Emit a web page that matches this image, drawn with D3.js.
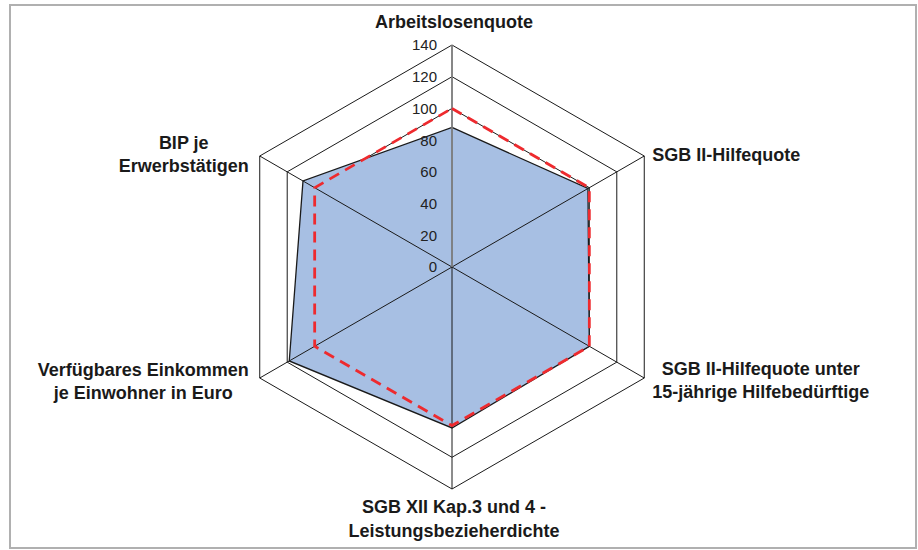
<!DOCTYPE html>
<html>
<head>
<meta charset="utf-8">
<script src="https://cdn.jsdelivr.net/npm/d3@7"></script>
<style>
  html, body { margin: 0; padding: 0; background: #fff; }
  svg { display: block; font-family: "Liberation Sans", Arial, sans-serif; }
</style>
</head>
<body>
<svg id="chart" width="918" height="550"></svg>
<script>
// Indicator names (each entry is a list of label lines)
const categories = [
  ["Arbeitslosenquote"],
  ["SGB II-Hilfequote"],
  ["SGB II-Hilfequote unter", "15-jährige Hilfebedürftige"],
  ["SGB XII Kap.3 und 4 -", "Leistungsbezieherdichte"],
  ["Verfügbares Einkommen", "je Einwohner in Euro"],
  ["BIP je", "Erwerbstätigen"]
];
// Region index values and the reference level
const regionValues = [88, 99, 100, 101.5, 118.5, 108.5];
const referenceValues = [100, 100, 100, 100, 100, 100];
const tickValues = [0, 20, 40, 60, 80, 100, 120, 140];

const svg = d3.select("#chart");
const cx = 452, cy = 267;
const r = d3.scaleLinear().domain([0, 140]).range([0, 222]);
const n = categories.length;
const angle = i => -Math.PI / 2 + i * 2 * Math.PI / n;
const pt = (v, i) => [cx + r(v) * Math.cos(angle(i)), cy + r(v) * Math.sin(angle(i))];

// outer frame
svg.append("rect")
  .attr("x", 10).attr("y", 5).attr("width", 906).attr("height", 543)
  .attr("fill", "none").attr("stroke", "#b0b0b0").attr("stroke-width", 2);

const line = d3.line().curve(d3.curveLinearClosed);

// rings
svg.append("g").selectAll("path")
  .data(tickValues.filter(t => t > 0))
  .join("path")
  .attr("d", t => line(d3.range(n).map(i => pt(t, i))))
  .attr("fill", "none").attr("stroke", "#1a1a1a").attr("stroke-width", 1);

// region area
svg.append("path")
  .attr("d", line(regionValues.map((v, i) => pt(v, i))))
  .attr("fill", "#a7bfe3").attr("stroke", "#1a1a1a").attr("stroke-width", 1.3)
  .attr("stroke-linejoin", "miter");

// spokes
svg.append("g").selectAll("line")
  .data(d3.range(1, n))
  .join("line")
  .attr("x1", cx).attr("y1", cy)
  .attr("x2", i => pt(140, i)[0]).attr("y2", i => pt(140, i)[1])
  .attr("stroke", "#1a1a1a").attr("stroke-width", 1);

// value axis (vertical)
svg.append("line")
  .attr("x1", cx).attr("y1", cy).attr("x2", cx).attr("y2", pt(140, 0)[1])
  .attr("stroke", "#7a7a7a").attr("stroke-width", 1.8);

// reference line
svg.append("path")
  .attr("d", line(referenceValues.map((v, i) => pt(v, i))))
  .attr("fill", "none").attr("stroke", "#ee2a2e").attr("stroke-width", 2.8)
  .attr("stroke-dasharray", "11,7").attr("stroke-linejoin", "miter");

// tick labels
svg.append("g").selectAll("text")
  .data(tickValues)
  .join("text")
  .attr("x", cx - 15).attr("y", t => cy - r(t))
  .attr("dy", "0.36em")
  .attr("text-anchor", "end")
  .attr("font-size", 15)
  .attr("fill", "#222")
  .text(d => d);

// category labels
const lineH = 23.5;
const labels = svg.append("g").selectAll("g")
  .data(categories)
  .join("g");
labels.each(function (lines, i) {
  const g = d3.select(this);
  const t = g.append("text")
    .attr("font-size", 18).attr("font-weight", "bold").attr("fill", "#1a1a1a")
    .attr("text-anchor", "middle");
  t.selectAll("tspan").data(lines).join("tspan")
    .attr("x", 0).attr("y", (d, k) => k * lineH)
    .attr("dy", "0.36em")
    .text(d => d);
  const w = d3.max(t.selectAll("tspan").nodes(), s => s.getComputedTextLength());
  const hBlock = (lines.length - 1) * lineH;
  const [vx, vy] = pt(140, i);
  let x, y;
  const a = angle(i);
  const cosA = Math.cos(a), sinA = Math.sin(a);
  if (Math.abs(cosA) < 0.01) {
    x = vx + 2;
    y = sinA < 0 ? vy - 23 : vy + 18;
  } else if (cosA > 0) {
    x = vx + 8 + w / 2;
    y = vy - hBlock / 2 + (sinA < 0 ? -1 : 2);
  } else {
    x = vx - 11 - w / 2;
    y = vy - hBlock / 2 + (sinA < 0 ? -2 : 3);
  }
  g.attr("transform", `translate(${x},${y})`);
});
</script>
</body>
</html>
